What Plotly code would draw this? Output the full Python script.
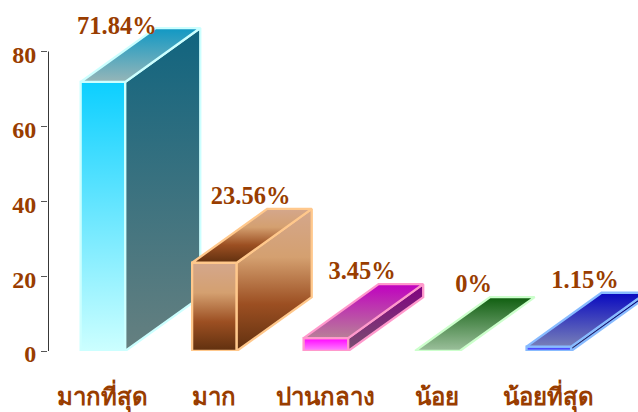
import plotly.graph_objects as go

categories = ["มากที่สุด", "มาก", "ปานกลาง", "น้อย", "น้อยที่สุด"]
values = [71.84, 23.56, 3.45, 0, 1.15]
labels = ["71.84%", "23.56%", "3.45%", "0%", "1.15%"]
y_ticks = [0, 20, 40, 60, 80]

strokes = ["#ccffff", "#ffc88c", "#ff99cc", "#ccffcc", "#88bbff"]
front_scales = [
    [[0, "#ccffff"], [1, "#0ccfff"]],
    [[0, "#60300f"], [0.33, "#9c4f22"], [0.66, "#d4a070"], [1, "#d4a78c"]],
    [[0, "#ff88ff"], [1, "#ff00ff"]],
    [[0, "#ccffcc"], [1, "#ccffcc"]],
    [[0, "#7070ff"], [1, "#3030ff"]],
]
side_scales = [
    [[0, "#668080"], [1, "#10647f"]],
    [[0, "#60300f"], [0.33, "#9c4f22"], [0.66, "#d4a070"], [1, "#d4a78c"]],
    [[0, "#7a5070"], [1, "#800080"]],
    [[0, "#668066"], [1, "#006600"]],
    [[0, "#333366"], [1, "#000080"]],
]
top_scales = [
    [[0, "#96b6b8"], [1, "#1098c4"]],
    [[0, "#60300f"], [0.33, "#9c4f22"], [0.66, "#d4a070"], [1, "#d4a78c"]],
    [[0, "#b88098"], [1, "#c000c0"]],
    [[0, "#9cc09c"], [1, "#0f5e0f"]],
    [[0, "#7880b8"], [1, "#0808c0"]],
]
label_shift = [-0.2, 0, 0, 0, 0]
label_lift = [-2.8, 0, 0, 0, 0]

TEXT = "#993d00"
FONT = "Liberation Serif"
HALF = 0.2
DX = 0.673
DY = 14.4
X_MIN = -0.493

fig = go.Figure()


def face(xs, ys, scale, stroke):
    fig.add_trace(go.Scatter(
        x=xs + xs[:1], y=ys + ys[:1], mode="lines", fill="toself",
        fillgradient=dict(type="vertical", colorscale=scale),
        line=dict(color=stroke, width=2.3), cliponaxis=False,
        hoverinfo="skip", showlegend=False))


for i, v in enumerate(values):
    l, r = i - HALF, i + HALF
    if v > 0:
        face([l, r, r, l], [0, 0, v, v], front_scales[i], strokes[i])
        face([r, r + DX, r + DX, r], [0, DY, v + DY, v], side_scales[i], strokes[i])
    face([l, r, r + DX, l + DX], [v, v, v + DY, v + DY], top_scales[i], strokes[i])

# y axis line, only as long as the tick range
fig.add_trace(go.Scatter(
    x=[X_MIN, X_MIN], y=[y_ticks[0], y_ticks[-1]], mode="lines",
    line=dict(color="#222222", width=1.8), cliponaxis=False,
    hoverinfo="skip", showlegend=False))

fig.add_trace(go.Scatter(
    x=[i + 0.325 + s for i, s in enumerate(label_shift)],
    y=[v + DY + 2.9 + d for v, d in zip(values, label_lift)],
    mode="text", text=labels, textposition="middle center",
    textfont=dict(family=FONT, size=24.5, color=TEXT, weight="bold"),
    cliponaxis=False, hoverinfo="skip", showlegend=False))

fig.update_layout(
    width=638, height=412, margin=dict(l=48, r=0, t=0, b=60.5),
    paper_bgcolor="white", plot_bgcolor="white", showlegend=False,
    xaxis=dict(range=[X_MIN, 4.80], tickmode="array", tickvals=list(range(5)),
               ticktext=categories, showgrid=False, zeroline=False, showline=False,
               ticks="", ticklabelstandoff=29,
               tickfont=dict(family=FONT, size=24, color=TEXT, weight="bold")),
    yaxis=dict(range=[0, 93.73], tickmode="array", tickvals=y_ticks,
               showgrid=False, zeroline=False, showline=False,
               ticks="outside", ticklen=6, tickcolor="#555555",
               ticklabelshift=3,
               tickfont=dict(family=FONT, size=24, color=TEXT, weight="bold")),
)
fig.write_html("out.html", config={"displayModeBar": False},
               post_script="document.body.style.margin='0';")
